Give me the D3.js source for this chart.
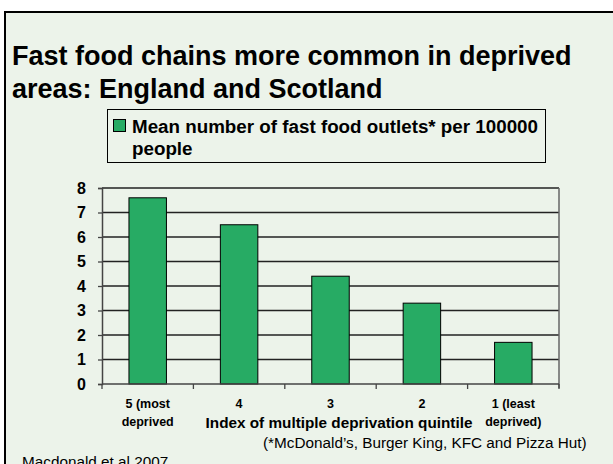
<!DOCTYPE html>
<html lang="en">
<head>
  <meta charset="UTF-8">
  <title>Fast food chains and deprivation</title>
  <script src="https://d3js.org/d3.v7.min.js"></script>
  <style>
    body { margin: 0; background: #fff; }
    svg text { font-family: Arial, "Liberation Sans", sans-serif; fill: #000; }
  </style>
</head>
<body>
  <div id="chart"></div>
  <script>
    const quintiles = ["5 (most|deprived", "4", "3", "2", "1 (least|deprived)"];
    const outlets = [7.6, 6.5, 4.4, 3.3, 1.7];
    const yTicks = [0, 1, 2, 3, 4, 5, 6, 7, 8];

    const W = 613, H = 464;
    const plot = { left: 102, right: 559, top: 188, bottom: 384 };

    const svg = d3.select("#chart").append("svg")
      .attr("width", W)
      .attr("height", H);

    // slide panel with its border
    svg.append("rect")
      .attr("x", 5).attr("y", 12)
      .attr("width", W).attr("height", H)
      .attr("fill", "#ecf3ea")
      .attr("stroke", "#000")
      .attr("stroke-width", 2);

    const title = svg.append("text")
      .attr("font-size", 27)
      .attr("font-weight", "bold");
    title.append("tspan").attr("x", 12).attr("y", 65).text("Fast food chains more common in deprived");
    title.append("tspan").attr("x", 12).attr("y", 98).text("areas: England and Scotland");

    const x = d3.scaleBand()
      .domain(quintiles)
      .range([plot.left, plot.right])
      .paddingInner(0.59)
      .paddingOuter(0.295);

    const y = d3.scaleLinear()
      .domain([0, 8])
      .range([plot.bottom, plot.top]);

    // gridlines
    svg.append("g")
      .selectAll("line")
      .data(yTicks.slice(1))
      .join("line")
      .attr("x1", plot.left).attr("x2", plot.right)
      .attr("y1", d => y(d)).attr("y2", d => y(d))
      .attr("stroke", "#222")
      .attr("stroke-width", 1.3);

    // right edge of plot
    svg.append("line")
      .attr("x1", plot.right).attr("x2", plot.right)
      .attr("y1", plot.top).attr("y2", plot.bottom + 4)
      .attr("stroke", "#666")
      .attr("stroke-width", 1.5);

    // bars
    svg.append("g")
      .selectAll("rect")
      .data(outlets)
      .join("rect")
      .attr("x", (d, i) => x(quintiles[i]))
      .attr("y", d => y(d))
      .attr("width", x.bandwidth())
      .attr("height", d => y(0) - y(d))
      .attr("fill", "#27ab64")
      .attr("stroke", "#000")
      .attr("stroke-width", 1);

    // y axis
    const yAxis = svg.append("g")
      .attr("transform", `translate(${plot.left},0)`)
      .call(d3.axisLeft(y).tickValues(yTicks).tickSize(4).tickPadding(12));
    yAxis.select(".domain").attr("stroke", "#444").attr("stroke-width", 1.5);
    yAxis.selectAll(".tick line").attr("stroke", "#444").attr("stroke-width", 1.3);
    yAxis.selectAll(".tick text")
      .attr("font-size", 16)
      .attr("font-weight", "bold")
      .attr("font-family", "Arial, 'Liberation Sans', sans-serif");

    // x axis with ticks between categories
    const xBoundary = d3.range(quintiles.length + 1).map(i => plot.left + i * (plot.right - plot.left) / quintiles.length);
    svg.append("line")
      .attr("x1", plot.left).attr("x2", plot.right)
      .attr("y1", plot.bottom).attr("y2", plot.bottom)
      .attr("stroke", "#444").attr("stroke-width", 1.5);
    svg.append("g")
      .selectAll("line")
      .data(xBoundary)
      .join("line")
      .attr("x1", d => d).attr("x2", d => d)
      .attr("y1", plot.bottom).attr("y2", plot.bottom + 5)
      .attr("stroke", "#444").attr("stroke-width", 1.3);

    const xLabels = svg.append("g")
      .selectAll("text")
      .data(quintiles)
      .join("text")
      .attr("text-anchor", "middle")
      .attr("font-size", 12.5)
      .attr("font-weight", "bold");
    xLabels.each(function (d) {
      const cx = x(d) + x.bandwidth() / 2;
      d.split("|").forEach((part, k) => {
        d3.select(this).append("tspan")
          .attr("x", cx)
          .attr("y", 408 + k * 18)
          .text(part);
      });
    });

    svg.append("text")
      .attr("x", 339).attr("y", 428)
      .attr("text-anchor", "middle")
      .attr("font-size", 15.3)
      .attr("font-weight", "bold")
      .text("Index of multiple deprivation quintile");

    // legend
    const legend = svg.append("g");
    legend.append("rect")
      .attr("x", 107.5).attr("y", 109.5)
      .attr("width", 438).attr("height", 53)
      .attr("fill", "none")
      .attr("stroke", "#000")
      .attr("stroke-width", 1);
    legend.append("rect")
      .attr("x", 113.5).attr("y", 119.5)
      .attr("width", 12).attr("height", 12)
      .attr("fill", "#27ab64")
      .attr("stroke", "#000");
    const legText = legend.append("text")
      .attr("font-size", 18.8)
      .attr("font-weight", "bold");
    legText.append("tspan").attr("x", 132).attr("y", 133).text("Mean number of fast food outlets* per 100000");
    legText.append("tspan").attr("x", 132).attr("y", 155).text("people");

    svg.append("text")
      .attr("x", 263).attr("y", 448)
      .attr("font-size", 15.3)
      .text("(*McDonald\u2019s, Burger King, KFC and Pizza Hut)");

    svg.append("text")
      .attr("x", 22).attr("y", 467)
      .attr("font-size", 15.3)
      .text("Macdonald et al 2007");
  </script>
</body>
</html>
